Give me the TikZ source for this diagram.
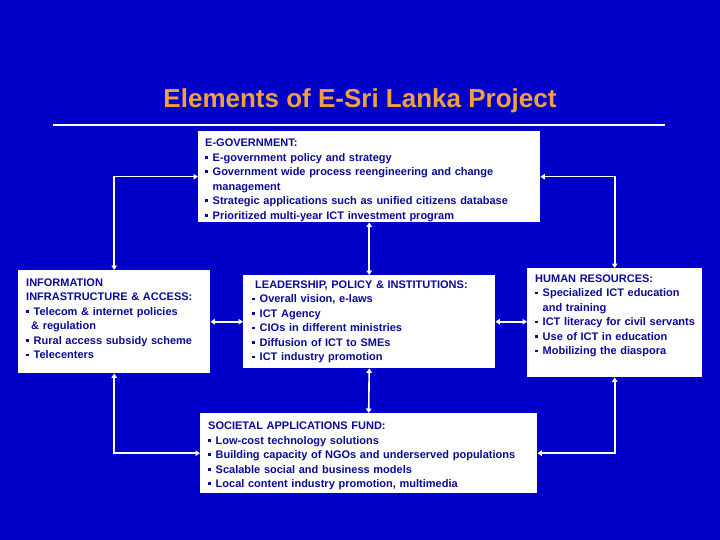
\documentclass[tikz,border=0pt]{standalone}
\usepackage{fontspec}
\setmainfont{Liberation Sans}
\usetikzlibrary{arrows.meta, positioning, calc}
\definecolor{bgblue}{RGB}{0,0,200}
\definecolor{txtblue}{RGB}{10,10,150}
\definecolor{ttlorange}{RGB}{240,160,64}
\newcommand{\bul}[1]{\par\noindent\makebox[7.5pt][l]{\rule[2.4pt]{2.7pt}{2.7pt}}\mbox{#1}}
\newcommand{\cont}[1]{\par\noindent\hspace*{7.5pt}\mbox{#1}}
\tikzset{panel/.style={fill=white, text=txtblue, align=left, anchor=north west, inner ysep=3pt,
           font=\fontsize{11}{14.5}\selectfont\bfseries},
         link/.style={draw=white, line width=1.6pt, {Triangle[length=4.5pt,width=5.5pt]}-{Triangle[length=4.5pt,width=5.5pt]}}}

\begin{document}
\begin{tikzpicture}[x=1pt, y=-1pt]
\fill[bgblue] (0,0) rectangle (720,540);
\useasboundingbox (0,0) rectangle (720,540);

\node[text=ttlorange, font=\fontsize{26}{30}\selectfont\bfseries, anchor=base] (title) at (360,108) {Elements of E-Sri Lanka Project};
\coordinate (rulel) at (53,125);
\coordinate (ruler) at (665,125);
\draw[white, line width=1.2pt] (rulel) -- (ruler);

\node[panel, inner xsep=7pt, inner ysep=0.5pt, text width=328pt, minimum height=91pt] (egov) at (198,131)
  {\rule{0pt}{14.5pt}\mbox{E-GOVERNMENT:}
   \bul{E-government policy and strategy}
   \bul{Government wide process reengineering and change}
   \cont{management}
   \bul{Strategic applications such as unified citizens database}
   \bul{Prioritized multi-year ICT investment program}};

\node[panel, inner xsep=8pt, text width=176pt, minimum height=103pt] (infra) at (18,270)
  {\mbox{INFORMATION}\par\mbox{INFRASTRUCTURE \& ACCESS:}
   \bul{Telecom \& internet policies}
   \par\noindent\hspace*{5pt}\mbox{\& regulation}
   \bul{Rural access subsidy scheme}
   \bul{Telecenters}\par\vspace*{6pt}};

\node[panel, inner xsep=9pt, text width=234pt, minimum height=93pt] (lead) at (243,275)
  {\hspace*{3pt}\mbox{LEADERSHIP, POLICY \& INSTITUTIONS:}
   \bul{Overall vision, e-laws}
   \bul{ICT Agency}
   \bul{CIOs in different ministries}
   \bul{Diffusion of ICT to SMEs}
   \bul{ICT industry promotion}};

\node[panel, inner xsep=8pt, text width=159pt, minimum height=109pt] (human) at (527,268)
  {\mbox{HUMAN RESOURCES:}
   \bul{Specialized ICT education}
   \cont{and training}
   \bul{ICT literacy for civil servants}
   \bul{Use of ICT in education}
   \bul{Mobilizing the diaspora}\par\vspace*{14pt}};

\node[panel, inner xsep=8pt, inner ysep=1pt, text width=321pt, minimum height=80pt] (fund) at (200,413)
  {\rule{0pt}{13pt}\mbox{SOCIETAL APPLICATIONS FUND:}
   \bul{Low-cost technology solutions}
   \bul{Building capacity of NGOs and underserved populations}
   \bul{Scalable social and business models}
   \bul{Local content industry promotion, multimedia}};

\draw[link] (egov.west) -| (infra.north);
\draw[link] (egov.east) -| (human.north);
\draw[link] (infra.south) |- (fund.west);
\draw[link] (human.south) |- (fund.east);
\draw[link] (egov.south) -- (lead.north);
\draw[link] (lead.south) -- (fund.north);
\draw[link] (infra.east) -- (infra.east -| lead.west);
\draw[link] (lead.east) -- (lead.east -| human.west);
\end{tikzpicture}
\end{document}
